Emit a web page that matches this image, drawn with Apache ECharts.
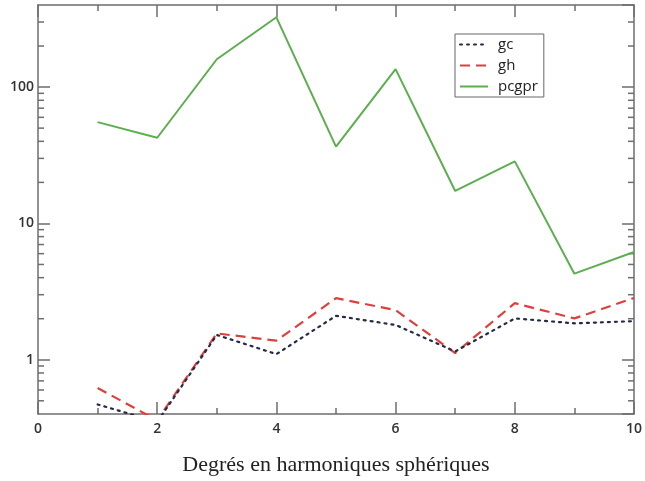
<!DOCTYPE html>
<html>
<head>
<meta charset="utf-8">
<script src="https://cdn.jsdelivr.net/npm/echarts@6/dist/echarts.min.js"></script>
<style>html,body{margin:0;padding:0;background:#fff}#c{width:645px;height:481px}</style>
</head>
<body>
<div id="c"></div>
<script>
var degrees = [1, 2, 3, 4, 5, 6, 7, 8, 9, 10];
var gc = [0.47, 0.35, 1.52, 1.10, 2.10, 1.80, 1.15, 2.01, 1.85, 1.92];
var gh = [0.62, 0.36, 1.56, 1.38, 2.83, 2.31, 1.12, 2.60, 2.01, 2.84];
var pcgpr = [55.3, 42.5, 160, 325, 36.6, 135.5, 17.3, 28.5, 4.28, 6.17];
var yMajorLabels = [1, 10, 100];
var yMinorTicks = [0.5, 0.6, 0.7, 0.8, 0.9, 2, 3, 4, 5, 6, 7, 8, 9, 20, 30, 40, 50, 60, 70, 80, 90, 200, 300];
var xTitle = 'Degrés en harmoniques sphériques';

function pairs(arr) { return degrees.map(function (d, i) { return [d, arr[i]]; }); }

var frameColor = '#6e6e6e';
var chart = echarts.init(document.getElementById('c'));
var xBase = {
  type: 'value', min: 0, max: 10, interval: 2,
  axisLine: { show: true, onZero: false, lineStyle: { color: frameColor, width: 1.5 } },
  axisTick: { show: true, inside: true, length: 12, lineStyle: { color: frameColor, width: 1.5 } },
  minorTick: { show: true, splitNumber: 2, length: 6, lineStyle: { color: frameColor, width: 1.5 } },
  splitLine: { show: false }
};
var yBase = {
  type: 'log', logBase: 10, min: 0.4, max: 400,
  axisLine: { show: true, onZero: false, lineStyle: { color: frameColor, width: 1.5 } },
  axisTick: { show: true, inside: true, length: 12, lineStyle: { color: frameColor, width: 1.5 } },
  splitLine: { show: false }
};
var option = {
  animation: false,
  backgroundColor: '#fff',
  grid: { left: 38, right: 10, top: 5, bottom: 59 },
  legend: {
    orient: 'vertical', left: 455, top: 34, width: 87,
    backgroundColor: '#fff',
    borderColor: '#666', borderWidth: 1,
    padding: [3, 6, 3, 4], itemGap: 6,
    itemWidth: 28, itemHeight: 14,
    itemStyle: { color: 'transparent', borderWidth: 0, opacity: 0 },
    textStyle: { fontFamily: 'Open Sans', fontSize: 15, color: '#222', padding: [0, 0, 0, 5] },
    data: ['gc', 'gh', 'pcgpr']
  },
  xAxis: [
    Object.assign({}, xBase, {
      position: 'bottom',
      name: xTitle, nameLocation: 'middle', nameGap: 40,
      nameTextStyle: { fontFamily: 'Liberation Serif', fontSize: 22, color: '#222' },
      axisLabel: { show: true, margin: 8, fontFamily: 'Open Sans', fontSize: 14, fontWeight: 600, color: '#333' }
    }),
    Object.assign({}, xBase, { position: 'top', axisLabel: { show: false } })
  ],
  yAxis: [
    Object.assign({}, yBase, {
      position: 'left',
      axisLabel: {
        show: true, margin: 4, fontFamily: 'Open Sans', fontSize: 14, fontWeight: 600, color: '#333',
        showMinLabel: false, showMaxLabel: false,
        formatter: function (v) { return yMajorLabels.indexOf(Math.round(v * 1000) / 1000) >= 0 ? String(Math.round(v)) : ''; }
      }
    }),
    Object.assign({}, yBase, { position: 'right', axisLabel: { show: false } })
  ],
  series: [
    {
      name: 'gc', type: 'line', data: pairs(gc), showSymbol: false, symbol: 'none',
      lineStyle: { color: '#262b45', width: 2.2, type: [2, 5], cap: 'round' },
      itemStyle: { color: '#262b45' }, z: 3
    },
    {
      name: 'gh', type: 'line', data: pairs(gh), showSymbol: false, symbol: 'none',
      lineStyle: { color: '#de3f3c', width: 2.2, type: [10, 6] },
      itemStyle: { color: '#de3f3c' }, z: 2
    },
    {
      name: 'pcgpr', type: 'line', data: pairs(pcgpr), showSymbol: false, symbol: 'none',
      lineStyle: { color: '#5cae4e', width: 2 },
      itemStyle: { color: '#5cae4e' }, z: 2
    },
    {
      type: 'custom', silent: true, legendHoverLink: false,
      data: yMinorTicks.map(function (v) { return [0, v]; }),
      renderItem: function (params, api) {
        var cs = params.coordSys;
        var p = api.coord([0, api.value(1)]);
        var st = { stroke: frameColor, lineWidth: 1.5 };
        return {
          type: 'group',
          children: [
            { type: 'line', shape: { x1: cs.x, y1: p[1], x2: cs.x + 6, y2: p[1] }, style: st },
            { type: 'line', shape: { x1: cs.x + cs.width - 6, y1: p[1], x2: cs.x + cs.width, y2: p[1] }, style: st }
          ]
        };
      },
      clip: false, z: 1
    }
  ]
};
chart.setOption(option);
</script>
</body>
</html>
